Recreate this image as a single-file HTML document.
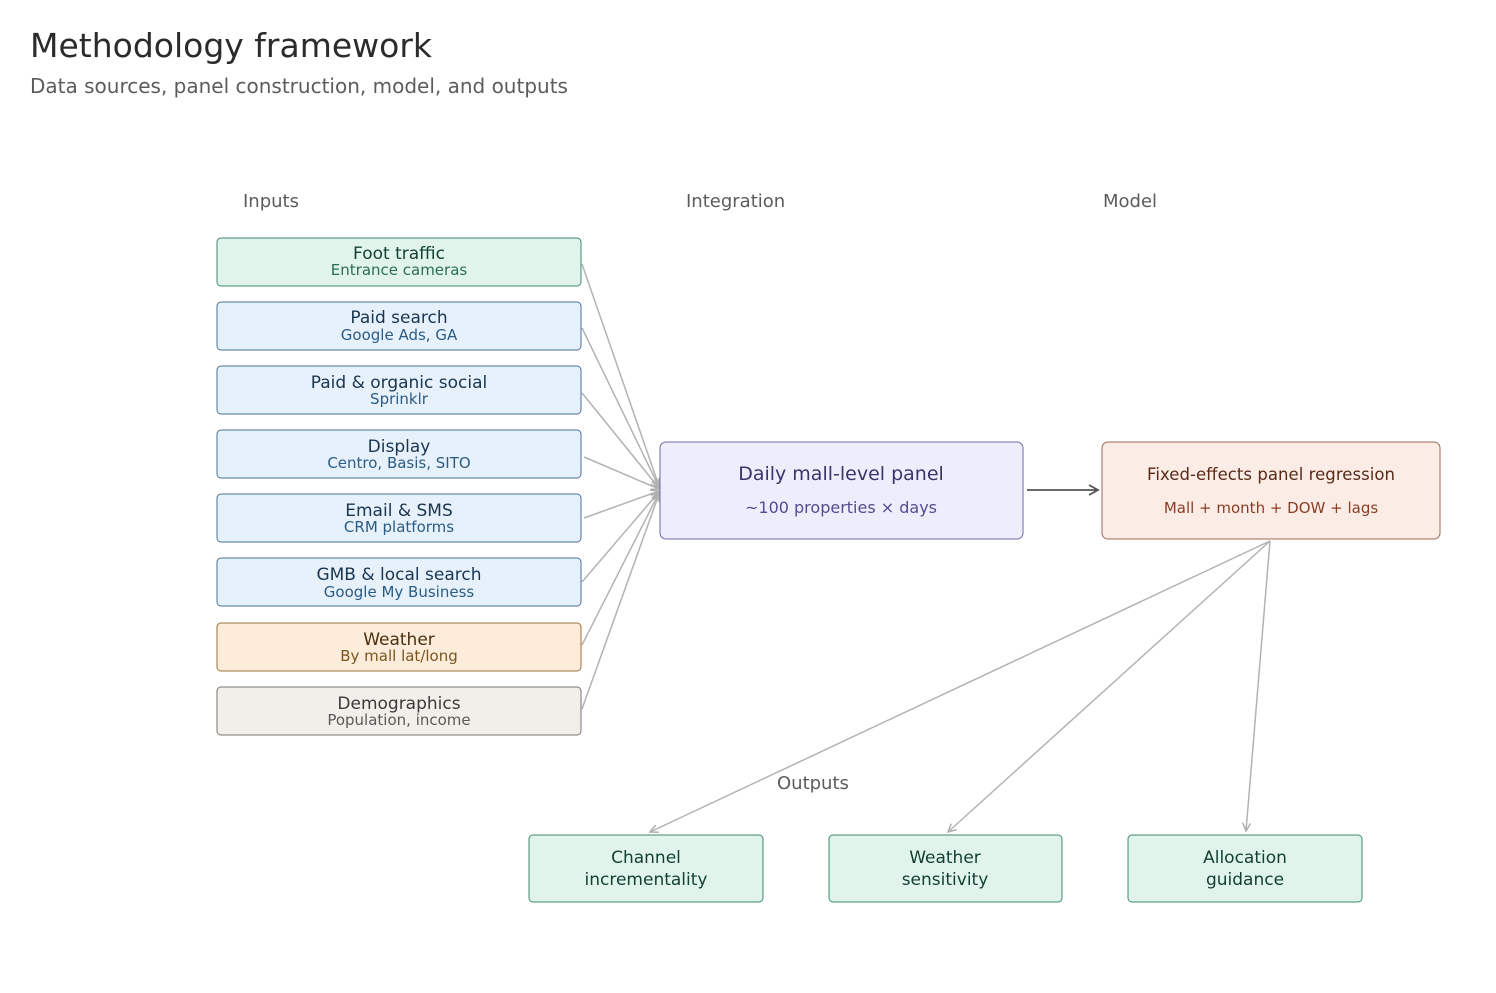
<!DOCTYPE html>
<html><head><meta charset="utf-8"><style>
body{margin:0;background:#fff}
svg{display:block;font-family:"DejaVu Sans","Liberation Sans",sans-serif}
</style></head><body>
<svg width="1496" height="993" viewBox="0 0 1496 993" xmlns="http://www.w3.org/2000/svg">
<defs>
<marker id="ag" markerWidth="10" markerHeight="10" refX="9" refY="5" orient="auto" markerUnits="userSpaceOnUse"><path d="M1,1 L9,5 L1,9" fill="none" stroke="#b0b0b0" stroke-width="1.5"/></marker>
<marker id="ad" markerWidth="12" markerHeight="12" refX="10" refY="6" orient="auto" markerUnits="userSpaceOnUse"><path d="M1,1 L10,6 L1,11" fill="none" stroke="#555" stroke-width="1.8"/></marker>
</defs>
<text x="30" y="57" font-size="33" fill="#2b2b2b">Methodology framework</text>
<text x="30" y="93" font-size="20" fill="#5c5c5c">Data sources, panel construction, model, and outputs</text>
<g font-size="18" fill="#5c5c5c">
<text x="243" y="207">Inputs</text>
<text x="686" y="207">Integration</text>
<text x="1103" y="207">Model</text>
<text x="777" y="789">Outputs</text>
</g>
<g stroke="#b3b3b3" stroke-width="1.5" fill="none" marker-end="url(#ag)">
<line x1="582" y1="264" x2="659" y2="486"/>
<line x1="582" y1="328" x2="659" y2="487"/>
<line x1="582" y1="393" x2="659" y2="488"/>
<line x1="584" y1="457" x2="659" y2="489"/>
<line x1="584" y1="518" x2="659" y2="491"/>
<line x1="582" y1="582" x2="659" y2="492"/>
<line x1="582" y1="645" x2="659" y2="493"/>
<line x1="582" y1="709" x2="659" y2="494"/>
<line x1="1270" y1="541" x2="650" y2="832"/>
<line x1="1270" y1="541" x2="948" y2="832"/>
<line x1="1270" y1="541" x2="1246" y2="831"/>
</g>
<line x1="1027" y1="490" x2="1098" y2="490" stroke="#555" stroke-width="1.8" marker-end="url(#ad)"/>
<g text-anchor="middle">
<rect x="217" y="238" width="364" height="48" rx="4" fill="#e0f4ec" stroke="#3d8a6a"/>
<text x="399" y="259" font-size="17" fill="#123f30">Foot traffic</text><text x="399" y="275" font-size="15" fill="#2a6e55">Entrance cameras</text>
<rect x="217" y="302" width="364" height="48" rx="4" fill="#e6f1fc" stroke="#4a6f93"/>
<text x="399" y="323" font-size="17" fill="#1a3550">Paid search</text><text x="399" y="340" font-size="15" fill="#2b5c85">Google Ads, GA</text>
<rect x="217" y="366" width="364" height="48" rx="4" fill="#e6f1fc" stroke="#4a6f93"/>
<text x="399" y="388" font-size="17" fill="#1a3550">Paid &amp; organic social</text><text x="399" y="404" font-size="15" fill="#2b5c85">Sprinklr</text>
<rect x="217" y="430" width="364" height="48" rx="4" fill="#e6f1fc" stroke="#4a6f93"/>
<text x="399" y="452" font-size="17" fill="#1a3550">Display</text><text x="399" y="468" font-size="15" fill="#2b5c85">Centro, Basis, SITO</text>
<rect x="217" y="494" width="364" height="48" rx="4" fill="#e6f1fc" stroke="#4a6f93"/>
<text x="399" y="516" font-size="17" fill="#1a3550">Email &amp; SMS</text><text x="399" y="532" font-size="15" fill="#2b5c85">CRM platforms</text>
<rect x="217" y="558" width="364" height="48" rx="4" fill="#e6f1fc" stroke="#4a6f93"/>
<text x="399" y="580" font-size="17" fill="#1a3550">GMB &amp; local search</text><text x="399" y="597" font-size="15" fill="#2b5c85">Google My Business</text>
<rect x="217" y="623" width="364" height="48" rx="4" fill="#fcecd9" stroke="#9a7040"/>
<text x="399" y="645" font-size="17" fill="#4a3010">Weather</text><text x="399" y="661" font-size="15" fill="#7a5520">By mall lat/long</text>
<rect x="217" y="687" width="364" height="48" rx="4" fill="#f2eee9" stroke="#7a7570"/>
<text x="399" y="709" font-size="17" fill="#3a3a3a">Demographics</text><text x="399" y="725" font-size="15" fill="#5a5a5a">Population, income</text>
<rect x="660" y="442" width="363" height="97" rx="6" fill="#eeedfc" stroke="#6e6aa8"/>
<text x="841" y="480" font-size="19" fill="#3a356a">Daily mall-level panel</text>
<text x="841" y="513" font-size="16" fill="#524c90">~100 properties × days</text>
<rect x="1102" y="442" width="338" height="97" rx="6" fill="#fcece6" stroke="#a06a55"/>
<text x="1271" y="480" font-size="16.5" fill="#5a2a18" textLength="248">Fixed-effects panel regression</text>
<text x="1271" y="513" font-size="15" fill="#8a3d25">Mall + month + DOW + lags</text>
<rect x="529" y="835" width="234" height="67" rx="4" fill="#e0f4ec" stroke="#3d8a6a"/>
<text x="646" y="863" font-size="17" fill="#123f30">Channel</text><text x="646" y="885" font-size="17" fill="#123f30">incrementality</text>
<rect x="829" y="835" width="233" height="67" rx="4" fill="#e0f4ec" stroke="#3d8a6a"/>
<text x="945" y="863" font-size="17" fill="#123f30">Weather</text><text x="945" y="885" font-size="17" fill="#123f30">sensitivity</text>
<rect x="1128" y="835" width="234" height="67" rx="4" fill="#e0f4ec" stroke="#3d8a6a"/>
<text x="1245" y="863" font-size="17" fill="#123f30">Allocation</text><text x="1245" y="885" font-size="17" fill="#123f30">guidance</text>
</g>
</svg>
</body></html>
